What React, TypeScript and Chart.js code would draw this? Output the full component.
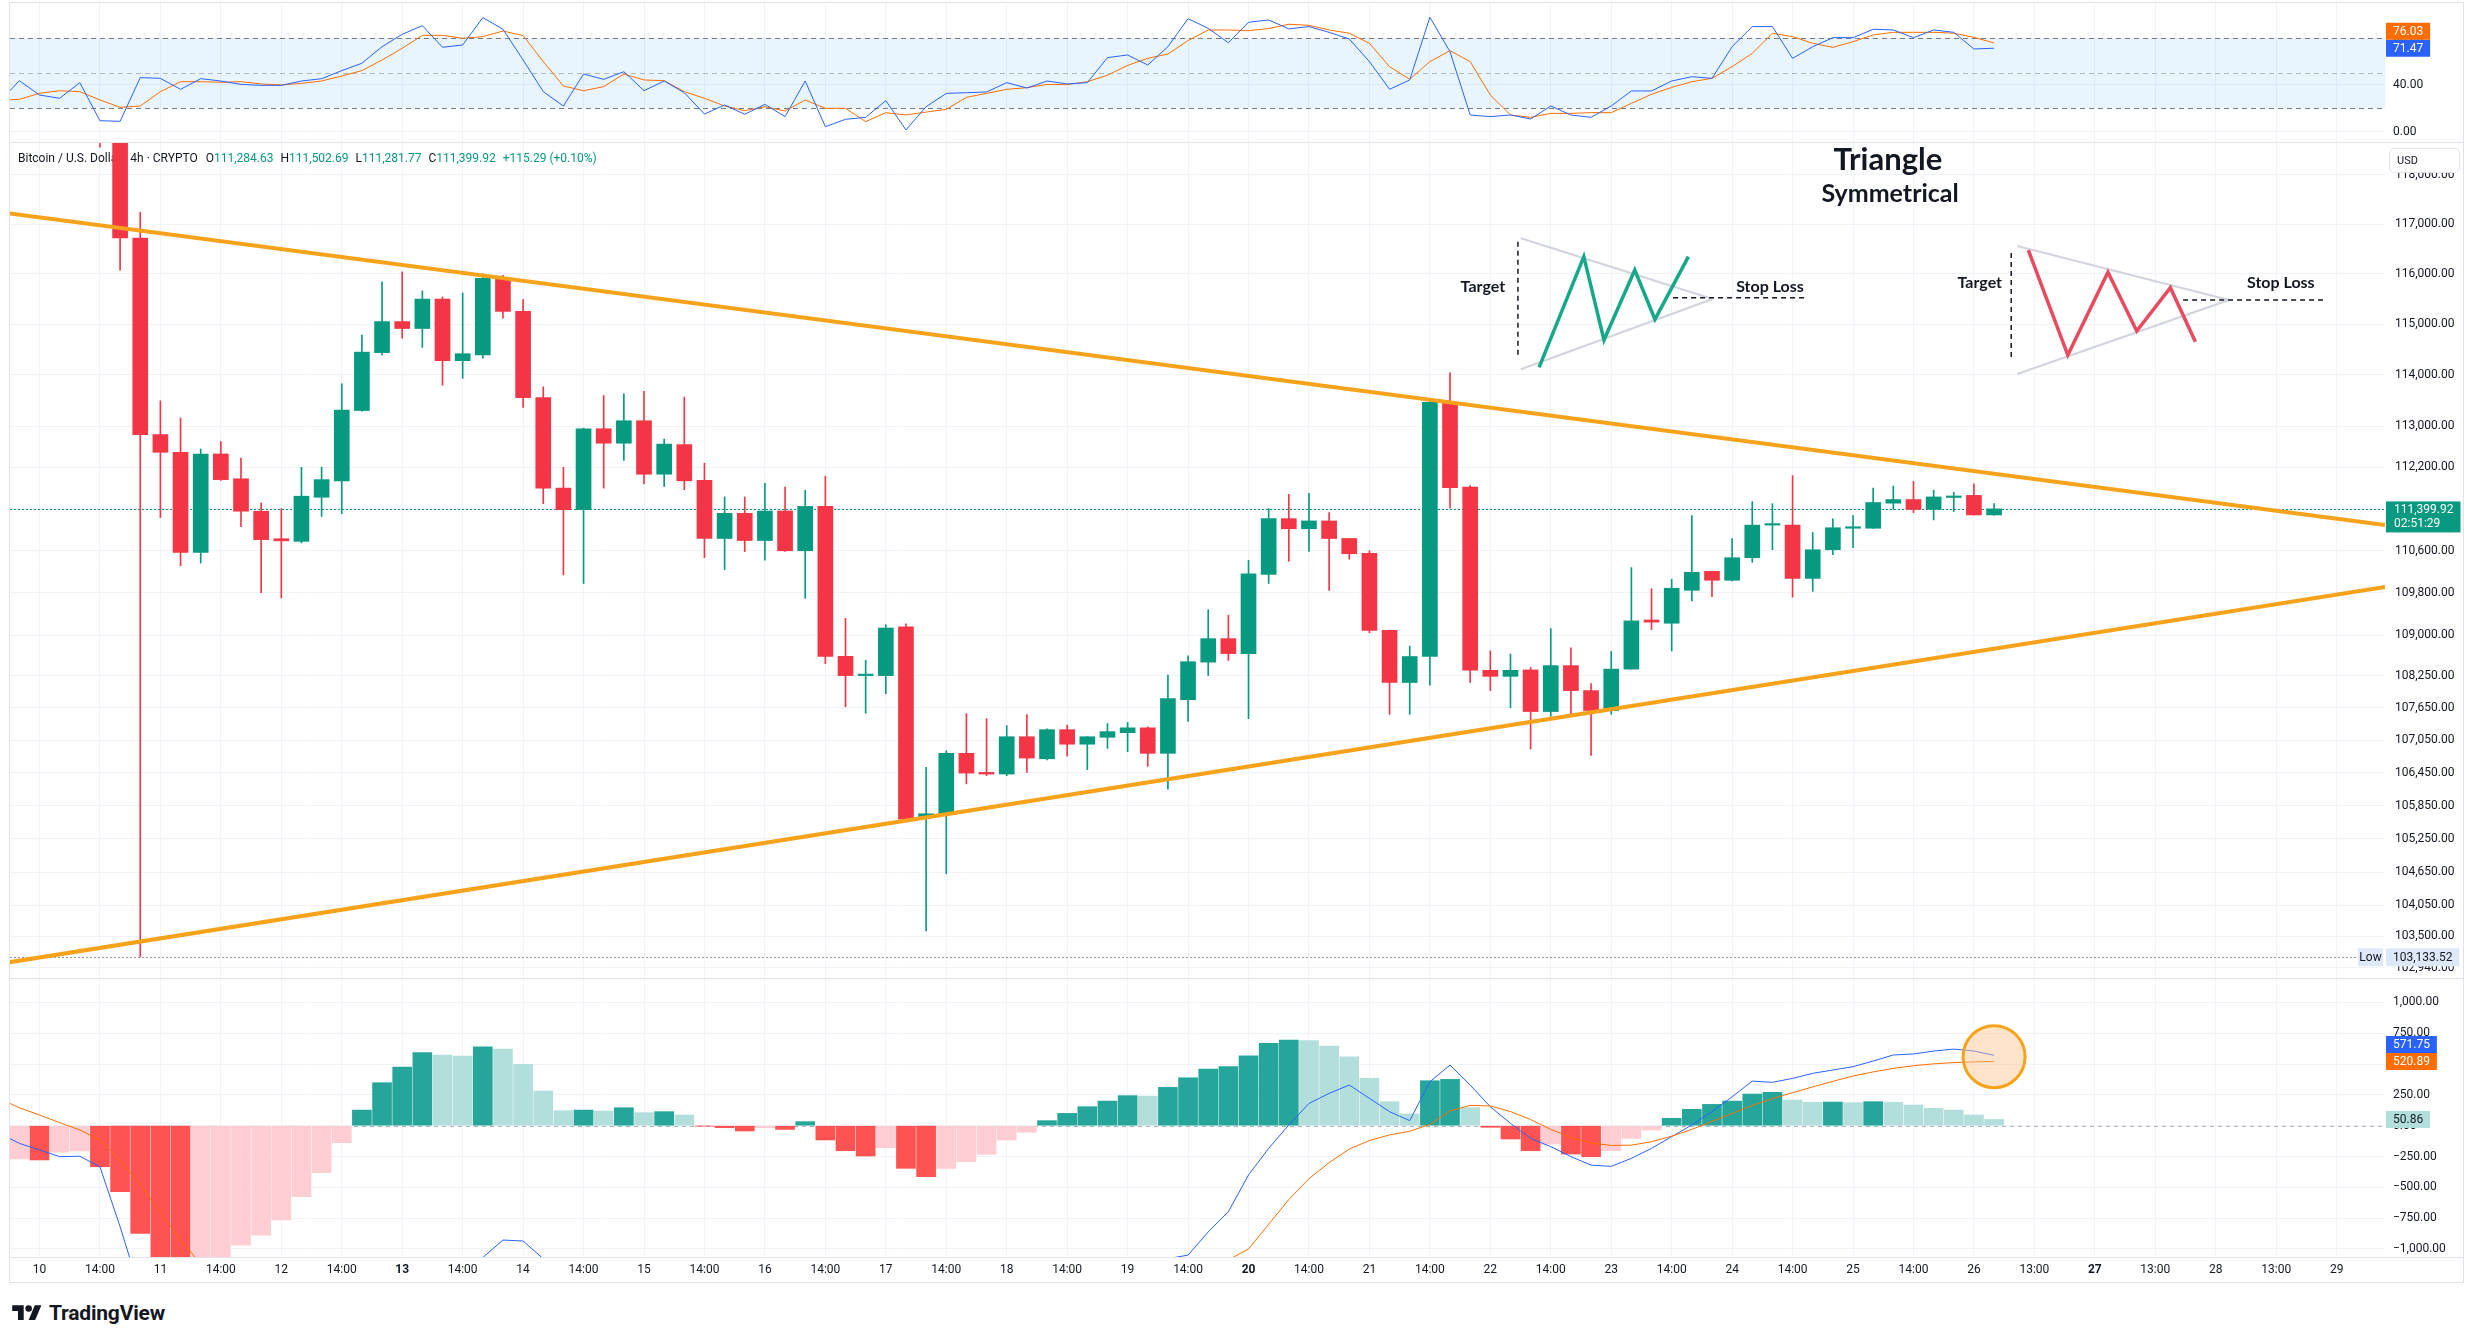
import React, { useEffect, useRef } from "react";
import { Chart, registerables } from "chart.js";

Chart.register(...registerables);

// ---------- data (bar index 0 = day 10, 02:00; 4h bars) ----------
const FIRST_INDEX = -2;

const OPEN = [
  119350, 119600, 119900, 119450, 119200, 119700, 118900,
  116718, 112835, 112491, 110569, 112459, 111980, 111356, 110830, 110780, 111624,
  111940, 113303, 114438, 115051, 114914, 115497, 114279, 114395, 115913, 115253,
  113555, 111800, 111386, 112948, 112667, 113104, 112067, 112640, 111950, 110834,
  111316, 110795, 111360, 110600, 111448, 108609, 108249, 108249, 109160, 105640,
  105705, 106810, 106460, 106430, 107116, 106710, 107246, 106978, 107105, 107190,
  107280, 106810, 107800, 108500, 108940, 108660, 110150, 111213, 111020, 111170,
  110834, 110550, 109094, 108120, 108605, 113463, 111820, 108348, 108235, 108355,
  107581, 108435, 107970, 107600, 108370, 109290, 109229, 109850, 110210, 110040,
  110468, 111090, 111090, 110075, 110620, 111030, 111030, 111510, 111580, 111390,
  111620, 111660, 111284.63,
];
const HIGH = [
  119800, 120100, 120200, 119700, 119900, 119850, 119050,
  117236, 113493, 113157, 112555, 112698, 112377, 111511, 111407, 112200, 112205,
  113827, 114785, 115839, 116041, 115660, 115540, 115620, 116000, 115970, 115486,
  113766, 112200, 112960, 113596, 113630, 113680, 112748, 113565, 112280, 111630,
  111630, 111892, 111820, 111760, 112030, 109321, 108535, 109200, 109220, 106555,
  106860, 107543, 107450, 107320, 107525, 107260, 107330, 107116, 107360, 107380,
  107300, 108260, 108620, 109484, 109380, 110420, 111407, 111680, 111700, 111330,
  110834, 110600, 109100, 108800, 113530, 114040, 111850, 108710, 108650, 108400,
  109130, 108770, 108100, 108700, 110280, 109880, 110060, 111274, 110210, 110834,
  111540, 111500, 112040, 110950, 111210, 111274, 111800, 111840, 111930, 111760,
  111720, 111880, 111502.69,
];
const LOW = [
  119100, 119400, 119300, 118900, 119000, 118560, 116075,
  103133.52, 111233, 110315, 110365, 111950, 111060, 109807, 109705, 110750, 111256,
  111310, 113290, 114395, 114722, 114543, 113796, 113933, 114330, 115120, 113366,
  111500, 110142, 109979, 111800, 112336, 111880, 111830, 111770, 110467, 110242,
  110585, 110420, 110590, 109700, 108470, 107670, 107550, 107910, 105560, 103592,
  104618, 106250, 106400, 106400, 106460, 106690, 106760, 106510, 106900, 106840,
  106570, 106152, 107400, 108250, 108530, 107450, 109979, 110400, 110590, 109850,
  110440, 109050, 107530, 107530, 108070, 111420, 108120, 107970, 107650, 106890,
  107490, 107510, 106774, 107530, 108370, 109110, 108710, 109650, 109730, 110030,
  110380, 110620, 109720, 109830, 110525, 110660, 111030, 111390, 111330, 111190,
  111350, 111284.63, 111281.77,
];
const CLOSE = [
  119600, 119900, 119450, 119200, 119700, 118900, 116718,
  112835, 112491, 110569, 112459, 111963, 111356, 110813, 110790, 111644, 111963,
  113313, 114448, 115051, 114914, 115497, 114279, 114417, 115913, 115253, 113555,
  111800, 111386, 112948, 112667, 113104, 112067, 112650, 111940, 110834, 111316,
  110795, 111360, 110600, 111448, 108609, 108249, 108262, 109139, 105606, 105705,
  106810, 106447, 106430, 107116, 106723, 107246, 106978, 107116, 107210, 107280,
  106810, 107821, 108508, 108940, 108660, 110161, 111213, 111020, 111170, 110834,
  110544, 109094, 108120, 108605, 113463, 111806, 108348, 108235, 108348, 107581,
  108435, 107970, 107600, 108370, 109273, 109250, 109890, 110192, 110040, 110468,
  111090, 111100, 110075, 110620, 111040, 111040, 111523, 111580, 111390, 111630,
  111645, 111284.63, 111399.92,
];

const STOCH_K = [
  25.3, 43.7, 31.4, 28.6, 42.0, 9.4, 8.9,
  46.3, 45.7, 36.3, 45.4, 43.4, 40.5, 39.7, 39.7, 43.4, 45.4,
  52.3, 58.6, 72.8, 83.4, 90.8, 72.3, 74.2, 97.7, 87.7, 61.4,
  34.3, 22.0, 49.4, 44.8, 51.4, 35.1, 43.4, 33.4, 15.1, 22.9,
  14.9, 23.4, 12.9, 43.4, 4.3, 10.6, 12.3, 26.6, 1.5, 21.4,
  32.8, 33.4, 34.0, 42.0, 37.4, 43.4, 40.9, 42.0, 63.4, 65.7,
  57.1, 72.8, 96.8, 88.5, 76.2, 93.7, 95.7, 88.0, 90.0, 85.1,
  79.4, 60.0, 36.3, 44.3, 98.0, 68.5, 14.3, 12.9, 14.3, 10.9,
  22.0, 14.3, 12.3, 22.0, 34.9, 34.9, 43.4, 47.1, 45.7, 72.8,
  90.0, 90.0, 62.8, 72.8, 80.5, 80.5, 87.7, 87.1, 80.5, 87.1,
  85.1, 70.8, 71.47,
];
const STOCH_D = [
  27.0, 27.7, 32.9, 35.1, 34.3, 27.2, 20.9,
  22.0, 34.3, 42.8, 42.8, 42.3, 42.8, 40.9, 40.0, 41.4, 43.4,
  47.7, 52.3, 61.4, 71.4, 82.5, 82.5, 80.0, 81.4, 86.2, 82.3,
  60.0, 39.1, 35.1, 38.6, 49.4, 44.3, 43.7, 34.3, 28.6, 22.0,
  18.0, 21.4, 17.7, 27.2, 20.0, 20.0, 8.6, 16.3, 14.3, 16.8,
  19.1, 29.4, 32.8, 36.3, 37.7, 40.5, 40.3, 42.8, 48.3, 56.8,
  62.8, 66.5, 78.0, 87.1, 87.1, 86.5, 88.3, 92.0, 91.1, 87.1,
  84.3, 75.7, 55.7, 44.9, 60.0, 69.4, 60.0, 31.4, 14.3, 12.3,
  15.7, 15.7, 16.3, 16.3, 24.3, 32.0, 38.0, 42.8, 45.7, 55.7,
  67.1, 84.3, 81.4, 75.7, 72.2, 77.1, 82.8, 85.1, 85.1, 85.1,
  84.3, 80.8, 76.03,
];

const MACD_HIST = [
  -300, -270, -278, -215, -205, -333, -536,
  -874, -1150, -1250, -1180, -1080, -969, -888, -765, -576, -381,
  -138, 127, 349, 476, 593, 574, 565, 641, 622, 498,
  282, 122, 127, 119, 146, 106, 114, 87, -2.4, -16,
  -43, -16, -30, 33, -116, -203, -246, -178, -346, -414,
  -346, -292, -232, -116, -54, 41, 100, 154, 200, 244,
  240, 311, 389, 460, 479, 568, 668, 695, 690, 646,
  560, 384, 195, 95, 365, 376, 146, -13, -108, -203,
  -149, -230, -252, -203, -103, -35, 60, 133, 173, 200,
  257, 271, 209, 190, 192, 187, 195, 190, 168, 141,
  127, 87, 50.86,
];
const MACD_LINE = [
  -62, -143, -197, -251, -248, -333, -820,
  -1350, -1700, -1900, -1850, -1750, -1650, -1560, -1480, -1400, -1330,
  -1260, -1200, -1150, -1110, -1080, -1075, -1080, -1070, -928, -936,
  -1080, -1150, -1180, -1200, -1190, -1210, -1200, -1220, -1260, -1280,
  -1300, -1290, -1310, -1280, -1400, -1500, -1560, -1530, -1650, -1700,
  -1680, -1640, -1590, -1510, -1450, -1380, -1310, -1250, -1190, -1140,
  -1110, -1080, -1050, -862, -698, -400, -184, 6, 181, 262,
  330, 222, 114, 41, 357, 492, 330, 154, 19, -103,
  -170, -251, -320, -330, -265, -184, -89, 6, 114, 235,
  362, 352, 384, 425, 452, 479, 525, 574, 582, 606,
  622, 606, 571.75,
];
const MACD_SIGNAL = [
  220, 146, 87, 25, -35, -116, -280,
  -480, -700, -930, -1120, -1250, -1350, -1400, -1420, -1420, -1400,
  -1380, -1350, -1320, -1290, -1260, -1240, -1220, -1200, -1160, -1130,
  -1120, -1125, -1135, -1150, -1160, -1170, -1175, -1185, -1200, -1215,
  -1230, -1240, -1255, -1260, -1290, -1330, -1375, -1405, -1455, -1505,
  -1540, -1560, -1565, -1555, -1535, -1505, -1465, -1420, -1375, -1330,
  -1285, -1245, -1205, -1150, -1090, -1000, -800, -600, -430, -300,
  -190, -120, -75, -45, 10, 120, 165, 160, 115, 50,
  -30, -95, -140, -160, -158, -130, -85, -30, 35, 100,
  165, 220, 268, 315, 360, 403, 437, 465, 487, 502,
  512, 518, 520.89,
];

const PRICE_TICKS = [118000, 117000, 116000, 115000, 114000, 113000, 112200, 111400, 110600, 109800, 109000, 108250, 107650, 107050, 106450, 105850, 105250, 104650, 104050, 103500, 102940];
const RSI_TICKS = [0, 40, 80];
const MACD_TICKS = [1000, 750, 500, 250, 0, -250, -500, -750, -1000];
const X_TICK_LABELS = ["10", "14:00", "11", "14:00", "12", "14:00", "13", "14:00", "14", "14:00", "15", "14:00", "16", "14:00", "17", "14:00", "18", "14:00", "19", "14:00", "20", "14:00", "21", "14:00", "22", "14:00", "23", "14:00", "24", "14:00", "25", "14:00", "26", "13:00", "27", "13:00", "28", "13:00", "29"];
const BOLD_TICK_LABELS = ["13", "20", "27"];
const X_TICK_STEP = 3;

const RSI_BANDS = [80, 50, 20];
const LOW_MARK = 103133.52;
const COUNTDOWN = "02:51:29";
const SYMBOL_TITLE = "Bitcoin / U.S. Dollar \u00b7 4h \u00b7 CRYPTO";

// drawings, in (bar index, price) units
const UPPER_TREND = [{ x: -1.5, y: 117214 }, { x: 116.4, y: 111091 }];
const LOWER_TREND = [{ x: -1.5, y: 103037 }, { x: 116.4, y: 109912 }];
const BULL_ZIGZAG = [{ x: 74.42, y: 114149 }, { x: 76.64, y: 116344 }, { x: 77.64, y: 114687 }, { x: 79.17, y: 116077 }, { x: 80.17, y: 115096 }, { x: 81.83, y: 116344 }];
const BULL_TRI_UPPER = [{ x: 73.52, y: 116712 }, { x: 83.03, y: 115499 }];
const BULL_TRI_LOWER = [{ x: 73.52, y: 114110 }, { x: 83.03, y: 115499 }];
const BULL_TARGET = [{ x: 73.37, y: 116644 }, { x: 73.37, y: 114327 }];
const BULL_STOP = [{ x: 81.07, y: 115525 }, { x: 87.77, y: 115525 }];
const BEAR_ZIGZAG = [{ x: 98.7, y: 116477 }, { x: 100.66, y: 114391 }, { x: 102.65, y: 116031 }, { x: 104.08, y: 114865 }, { x: 105.75, y: 115724 }, { x: 106.99, y: 114653 }];
const BEAR_TRI_UPPER = [{ x: 98.15, y: 116558 }, { x: 108.66, y: 115479 }];
const BEAR_TRI_LOWER = [{ x: 98.15, y: 114018 }, { x: 108.66, y: 115479 }];
const BEAR_TARGET = [{ x: 97.85, y: 116417 }, { x: 97.85, y: 114313 }];
const BEAR_STOP = [{ x: 106.38, y: 115479 }, { x: 113.32, y: 115479 }];
const MACD_MARK = [{ x: 97, y: 560, r: 31 }];

const NOTE_TEXTS = ["Triangle", "Symmetrical", "Target", "Stop Loss", "Target", "Stop Loss"];
const NOTE_X = [91.73, 91.84, 71.63, 85.88, 96.29, 111.23];
const NOTE_Y = [118093, 117450, 115644, 115644, 115712, 115712];

// ---------- layout / style ----------
const X_MIN = -1.464;
const X_MAX = 116.4;
const PRICE_MIN = 102758;
const PRICE_MAX = 118643;
const RSI_MIN = -9.68;
const RSI_MAX = 110.2;
const MACD_MIN = -1065.7;
const MACD_MAX = 1190.7;

const FONT = "Roboto, 'Noto Sans', sans-serif";
const NOTE_FONT = "Lato, 'Open Sans', sans-serif";
const NOTE_STYLE = [
  { size: 31, weight: "bold" },
  { size: 25, weight: "bold" },
  { size: 16, weight: "bold" },
  { size: 16, weight: "bold" },
  { size: 16, weight: "bold" },
  { size: 16, weight: "bold" },
];
const TEXT = "#131722";
const GRID = "#f0f3fa";
const UP = "#089981";
const DOWN = "#F23645";
const TREND = "#F7A21B";
const BLUE = "#2962FF";
const ORANGE = "#FF6D00";
const AXIS_W = 78;
const CHART_W = 2453;

const XS = OPEN.map((_, i) => FIRST_INDEX + i);
const LAST = OPEN.length - 1;

const fmt2 = (v: number) =>
  Math.abs(v).toLocaleString("en-US", { minimumFractionDigits: 2, maximumFractionDigits: 2 });
const fmtSigned = (v: number) => (v < 0 ? "\u2212" : "") + fmt2(v);

function xScale(showLabels: boolean): any {
  return {
    type: "linear",
    min: X_MIN,
    max: X_MAX,
    offset: false,
    bounds: "data",
    afterBuildTicks: (s: any) => {
      s.ticks = X_TICK_LABELS.map((_, k) => ({ value: k * X_TICK_STEP }));
    },
    afterFit: (s: any) => {
      s.height = showLabels ? 26 : 0;
      s.paddingLeft = 0;
      s.paddingRight = 0;
    },
    grid: { color: GRID, drawTicks: false, offset: false },
    border: { display: false },
    ticks: {
      display: showLabels,
      autoSkip: false,
      maxRotation: 0,
      padding: 6,
      color: TEXT,
      callback: (v: number) => X_TICK_LABELS[Math.round(v / X_TICK_STEP)] ?? "",
      font: (c: any) => ({
        family: FONT,
        size: 12,
        weight: c.tick && BOLD_TICK_LABELS.includes(c.tick.label) ? "bold" : "normal",
      }),
    },
  };
}

function yScale(type: string, min: number, max: number, ticks: number[], fmt: (v: number) => string, padding: number): any {
  return {
    type,
    position: "right",
    min,
    max,
    bounds: "data",
    beginAtZero: false,
    afterBuildTicks: (s: any) => {
      s.ticks = ticks.map((v) => ({ value: v }));
    },
    afterFit: (s: any) => {
      s.width = AXIS_W;
      s.paddingTop = 0;
      s.paddingBottom = 0;
    },
    grid: { color: GRID, drawTicks: false },
    border: { display: false },
    ticks: { padding, color: TEXT, autoSkip: false, font: { family: FONT, size: 12 }, callback: (v: number) => fmt(v) },
  };
}

function baseOptions(x: any, y: any, top: number): any {
  return {
    responsive: false,
    animation: false,
    events: [],
    layout: { padding: { top, left: 0, right: 0, bottom: 0 }, autoPadding: false },
    plugins: { legend: { display: false }, tooltip: { enabled: false } },
    scales: { x, y },
  };
}

function valueBox(ctx: any, left: number, yc: number, text: string, bg: string, fg: string, h = 17) {
  ctx.font = `12px ${FONT}`;
  const w = ctx.measureText(text).width + 14;
  ctx.fillStyle = bg;
  ctx.fillRect(left, yc - h / 2, w, h);
  ctx.fillStyle = fg;
  ctx.textAlign = "left";
  ctx.textBaseline = "middle";
  ctx.fillText(text, left + 7, yc + 0.5);
}

function pairedBoxes(ctx: any, left: number, y: any, a: { v: number; bg: string; fg: string }, b: { v: number; bg: string; fg: string }) {
  const h = 17;
  const lo = a.v <= b.v ? a : b;
  const hi = a.v <= b.v ? b : a;
  const yLo = y.getPixelForValue(lo.v);
  const yHi = Math.min(y.getPixelForValue(hi.v), yLo - h);
  valueBox(ctx, left, yLo, fmt2(lo.v), lo.bg, lo.fg, h);
  valueBox(ctx, left, yHi, fmt2(hi.v), hi.bg, hi.fg, h);
}

function lineDs(data: any[], color: string, width: number, dash: number[] = [], order = 1): any {
  return {
    type: "line",
    data,
    borderColor: color,
    borderWidth: width,
    borderDash: dash,
    pointRadius: 0,
    tension: 0,
    fill: false,
    order,
    clip: 0,
  };
}

// ---------- RSI (stochastic) pane ----------
function rsiConfig(): any {
  const plugin = {
    id: "rsiOverlay",
    beforeDatasetsDraw(chart: any) {
      const { ctx, chartArea: a, scales } = chart;
      const y = scales.y;
      const yTop = y.getPixelForValue(RSI_BANDS[0]);
      const yBot = y.getPixelForValue(RSI_BANDS[2]);
      ctx.save();
      ctx.fillStyle = "rgba(33,150,243,0.1)";
      ctx.fillRect(a.left, yTop, a.right - a.left, yBot - yTop);
      ctx.lineWidth = 1;
      ctx.setLineDash([5, 4]);
      RSI_BANDS.forEach((v, k) => {
        const yy = Math.round(y.getPixelForValue(v)) + 0.5;
        ctx.strokeStyle = k === 1 ? "rgba(120,123,134,0.5)" : "#787B86";
        ctx.beginPath();
        ctx.moveTo(a.left, yy);
        ctx.lineTo(a.right, yy);
        ctx.stroke();
      });
      ctx.restore();
    },
    afterDraw(chart: any) {
      const { ctx, chartArea: a, scales } = chart;
      ctx.save();
      pairedBoxes(ctx, a.right + 1, scales.y,
        { v: STOCH_K[LAST], bg: BLUE, fg: "#fff" },
        { v: STOCH_D[LAST], bg: ORANGE, fg: "#fff" });
      ctx.restore();
    },
  };
  return {
    type: "line",
    data: {
      datasets: [
        lineDs(XS.map((x, i) => ({ x, y: STOCH_D[i] })), ORANGE, 1, [], 2),
        lineDs(XS.map((x, i) => ({ x, y: STOCH_K[i] })), BLUE, 1, [], 1),
      ],
    },
    options: baseOptions(xScale(false), yScale("linear", RSI_MIN, RSI_MAX, RSI_TICKS, fmt2, 8), 3),
    plugins: [plugin],
  };
}

// ---------- price pane ----------
function priceConfig(): any {
  const colors = OPEN.map((o, i) => (CLOSE[i] >= o ? UP : DOWN));
  const change = CLOSE[LAST] - CLOSE[LAST - 1];
  const pct = (change / CLOSE[LAST - 1]) * 100;
  const sign = change >= 0 ? "+" : "\u2212";
  const header: [string, string, number][] = [
    [SYMBOL_TITLE, TEXT, 8],
    ["O", TEXT, 0], [fmt2(OPEN[LAST]), UP, 7],
    ["H", TEXT, 0], [fmt2(HIGH[LAST]), UP, 7],
    ["L", TEXT, 0], [fmt2(LOW[LAST]), UP, 7],
    ["C", TEXT, 0], [fmt2(CLOSE[LAST]), UP, 7],
    [`${sign}${fmt2(change)} (${sign}${Math.abs(pct).toFixed(2)}%)`, UP, 0],
  ];
  const plugin = {
    id: "priceOverlay",
    beforeDatasetsDraw(chart: any) {
      const { ctx, chartArea: a, scales } = chart;
      const y = scales.y;
      ctx.save();
      ctx.lineWidth = 1;
      ctx.setLineDash([2, 2]);
      const py = Math.round(y.getPixelForValue(CLOSE[LAST])) + 0.5;
      ctx.strokeStyle = UP;
      ctx.beginPath();
      ctx.moveTo(a.left, py);
      ctx.lineTo(a.right, py);
      ctx.stroke();
      const ly = Math.round(y.getPixelForValue(LOW_MARK)) + 0.5;
      ctx.strokeStyle = "#9598a1";
      ctx.beginPath();
      ctx.moveTo(a.left, ly);
      ctx.lineTo(a.right - 28, ly);
      ctx.stroke();
      ctx.setLineDash([]);
      ctx.font = `12px ${FONT}`;
      ctx.textAlign = "left";
      ctx.textBaseline = "middle";
      let hx = a.left + 8;
      const hy = a.top + 16;
      header.forEach(([t, c, gap]) => {
        ctx.fillStyle = c;
        ctx.fillText(t, hx, hy);
        hx += ctx.measureText(t).width + gap;
      });
      ctx.restore();
    },
    afterDatasetsDraw(chart: any) {
      const { ctx, scales } = chart;
      ctx.save();
      ctx.fillStyle = TEXT;
      ctx.textAlign = "center";
      ctx.textBaseline = "alphabetic";
      NOTE_TEXTS.forEach((t, k) => {
        ctx.font = `${NOTE_STYLE[k].weight} ${NOTE_STYLE[k].size}px ${NOTE_FONT}`;
        ctx.fillText(t, scales.x.getPixelForValue(NOTE_X[k]), scales.y.getPixelForValue(NOTE_Y[k]));
      });
      ctx.restore();
    },
    afterDraw(chart: any) {
      const { ctx, chartArea: a, scales } = chart;
      const y = scales.y;
      ctx.save();
      const left = a.right + 1;
      // last price label
      const py = y.getPixelForValue(CLOSE[LAST]);
      ctx.font = `12px ${FONT}`;
      const pText = fmt2(CLOSE[LAST]);
      const pw = ctx.measureText(pText).width + 15;
      ctx.fillStyle = UP;
      ctx.fillRect(left, py - 7.5, pw, 31);
      ctx.fillStyle = "#fff";
      ctx.textAlign = "left";
      ctx.textBaseline = "middle";
      ctx.fillText(pText, left + 8, py + 1);
      ctx.fillText(COUNTDOWN, left + 8, py + 15.5);
      // low label
      const ly = y.getPixelForValue(LOW_MARK);
      ctx.fillStyle = "#dde9fb";
      ctx.fillRect(left - 28, ly - 8.5, 25, 18);
      ctx.fillStyle = "#131722";
      ctx.textAlign = "center";
      ctx.fillText("Low", left - 15.5, ly + 1);
      valueBox(ctx, left, ly + 0.5, fmt2(LOW_MARK), "#dde9fb", TEXT, 18);
      // currency box
      ctx.fillStyle = "#fff";
      ctx.strokeStyle = "#e0e3eb";
      ctx.lineWidth = 1;
      ctx.beginPath();
      (ctx as any).roundRect(left + 3.5, a.top + 5.5, 70, 24, 5);
      ctx.fill();
      ctx.stroke();
      ctx.fillStyle = TEXT;
      ctx.font = `11px ${FONT}`;
      ctx.textAlign = "left";
      ctx.fillText("USD", left + 11, a.top + 18);
      ctx.restore();
    },
  };
  const candleWicks = {
    type: "bar",
    data: XS.map((x, i) => ({ x, y: [LOW[i], HIGH[i]] })),
    backgroundColor: colors,
    barThickness: 1,
    grouped: false,
    order: 11,
    clip: 0,
  };
  const candleBodies = {
    type: "bar",
    data: XS.map((x, i) => ({ x, y: [OPEN[i], CLOSE[i]] })),
    backgroundColor: colors,
    barThickness: 15,
    minBarLength: 1.5,
    grouped: false,
    order: 10,
    clip: 0,
  };
  return {
    type: "bar",
    data: {
      datasets: [
        candleWicks,
        candleBodies,
        lineDs(BULL_TRI_UPPER, "#d1d4dc", 2, [], 4),
        lineDs(BULL_TRI_LOWER, "#d1d4dc", 2, [], 4),
        lineDs(BEAR_TRI_UPPER, "#d1d4dc", 2, [], 4),
        lineDs(BEAR_TRI_LOWER, "#d1d4dc", 2, [], 4),
        lineDs(BULL_TARGET, TEXT, 1.5, [5, 4], 3),
        lineDs(BULL_STOP, TEXT, 1.5, [5, 4], 3),
        lineDs(BEAR_TARGET, TEXT, 1.5, [5, 4], 3),
        lineDs(BEAR_STOP, TEXT, 1.5, [5, 4], 3),
        lineDs(BULL_ZIGZAG, "#16a889", 3.5, [], 2),
        lineDs(BEAR_ZIGZAG, "#e84a5f", 3.5, [], 2),
        lineDs(UPPER_TREND, TREND, 4, [], 1),
        lineDs(LOWER_TREND, TREND, 4, [], 1),
      ],
    },
    options: baseOptions(xScale(false), yScale("logarithmic", PRICE_MIN, PRICE_MAX, PRICE_TICKS, fmt2, 10), 0),
    plugins: [plugin],
  };
}

// ---------- MACD pane ----------
function macdConfig(): any {
  const histColors = MACD_HIST.map((v, i) => {
    const prev = i > 0 ? MACD_HIST[i - 1] : v;
    if (v >= 0) return v > prev ? "#26A69A" : "#B2DFDB";
    return v < prev ? "#FF5252" : "#FFCDD2";
  });
  const plugin = {
    id: "macdOverlay",
    beforeDatasetsDraw(chart: any) {
      const { ctx, chartArea: a, scales } = chart;
      const yy = Math.round(scales.y.getPixelForValue(0)) + 0.5;
      ctx.save();
      ctx.setLineDash([4, 4]);
      ctx.strokeStyle = "rgba(120,123,134,0.6)";
      ctx.lineWidth = 1;
      ctx.beginPath();
      ctx.moveTo(a.left, yy);
      ctx.lineTo(a.right, yy);
      ctx.stroke();
      ctx.restore();
    },
    afterDraw(chart: any) {
      const { ctx, chartArea: a, scales } = chart;
      ctx.save();
      pairedBoxes(ctx, a.right + 1, scales.y,
        { v: MACD_LINE[LAST], bg: BLUE, fg: "#fff" },
        { v: MACD_SIGNAL[LAST], bg: ORANGE, fg: "#fff" });
      valueBox(ctx, a.right + 1, scales.y.getPixelForValue(MACD_HIST[LAST]), fmt2(MACD_HIST[LAST]), "#B2DFDB", TEXT, 17);
      ctx.restore();
    },
  };
  return {
    type: "bar",
    data: {
      datasets: [
        {
          type: "bar",
          data: XS.map((x, i) => ({ x, y: MACD_HIST[i] })),
          backgroundColor: histColors,
          barThickness: 19,
          grouped: false,
          order: 5,
          clip: 0,
        },
        lineDs(XS.map((x, i) => ({ x, y: MACD_LINE[i] })), BLUE, 1, [], 3),
        lineDs(XS.map((x, i) => ({ x, y: MACD_SIGNAL[i] })), ORANGE, 1, [], 2),
        {
          type: "bubble",
          data: MACD_MARK,
          backgroundColor: "rgba(252,196,140,0.45)",
          borderColor: TREND,
          borderWidth: 3,
          order: 0,
        },
      ],
    },
    options: baseOptions(xScale(true), yScale("linear", MACD_MIN, MACD_MAX, MACD_TICKS, fmtSigned, 8), 0),
    plugins: [plugin],
  };
}

function Line({ l, t, w, h }: { l: number; t: number; w: number; h: number }) {
  return <div style={{ position: "absolute", left: l, top: t, width: w, height: h, background: "#e0e3eb" }} />;
}

export default function App() {
  const rsiRef = useRef<HTMLCanvasElement>(null);
  const priceRef = useRef<HTMLCanvasElement>(null);
  const macdRef = useRef<HTMLCanvasElement>(null);

  useEffect(() => {
    Chart.defaults.font.family = FONT;
    Chart.defaults.font.size = 12;
    Chart.defaults.color = TEXT;
    const charts = [
      new Chart(rsiRef.current as any, rsiConfig()),
      new Chart(priceRef.current as any, priceConfig()),
      new Chart(macdRef.current as any, macdConfig()),
    ];
    return () => charts.forEach((c) => c.destroy());
  }, []);

  const cv = (ref: any, top: number, h: number) => (
    <canvas
      ref={ref}
      width={CHART_W}
      height={h}
      style={{ position: "absolute", left: 10, top, width: CHART_W, height: h }}
    />
  );

  return (
    <div style={{ position: "absolute", left: 0, top: 0, width: 2475, height: 1343, background: "#fff", overflow: "hidden", fontFamily: FONT }}>
      {cv(rsiRef, 0, 143)}
      {cv(priceRef, 143, 835)}
      {cv(macdRef, 979, 304)}
      <Line l={9} t={2} w={2455} h={1} />
      <Line l={9} t={142} w={2455} h={1} />
      <Line l={9} t={978} w={2455} h={1} />
      <Line l={9} t={1257} w={2455} h={1} />
      <Line l={9} t={1282} w={2455} h={1} />
      <Line l={9} t={2} w={1} h={1281} />
      <Line l={2463} t={2} w={1} h={1281} />
      <div style={{ position: "absolute", left: 12, top: 1301, display: "flex", alignItems: "center", color: TEXT }}>
        <svg width="30" height="23" viewBox="0 0 36 28" style={{ display: "block" }}>
          <path d="M14 22H7V11H0V4h14v18zM28 22h-8l7.5-18h8L28 22z" fill={TEXT} />
          <circle cx="20" cy="8" r="4" fill={TEXT} />
        </svg>
        <span style={{ marginLeft: 7, fontFamily: FONT, fontWeight: 700, fontSize: 21, letterSpacing: -0.2 }}>TradingView</span>
      </div>
    </div>
  );
}
